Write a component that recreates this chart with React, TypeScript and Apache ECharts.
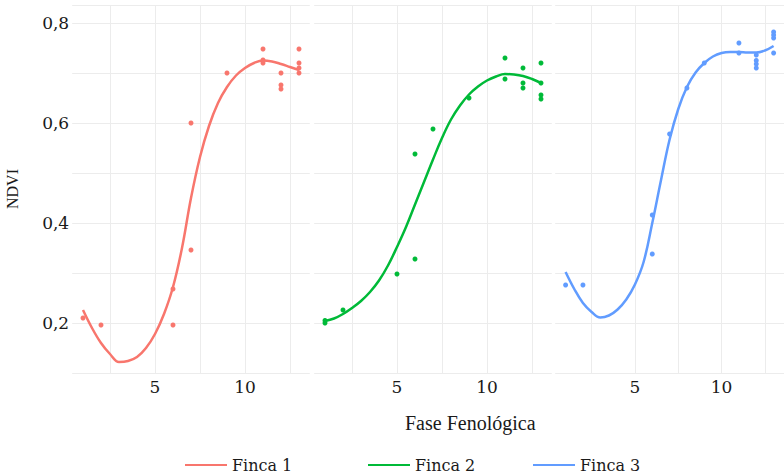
import React, { useEffect, useRef } from "react";
import * as echarts from "echarts";

const SERIES_NAMES = ["Finca 1", "Finca 2", "Finca 3"];
const COLORS = ["#F8766D", "#00BA38", "#619CFF"];

const X_CURVE = [1, 1.5, 2, 2.5, 3, 3.5, 4, 4.5, 5, 5.5, 6, 6.5, 7, 7.5, 8, 8.5, 9, 9.5, 10, 10.5, 11, 11.5, 12, 12.5, 13];

const FINCA1_CURVE = [0.226, 0.19, 0.16, 0.138, 0.122, 0.124, 0.132, 0.15, 0.178, 0.218, 0.272, 0.35, 0.45, 0.532, 0.594, 0.64, 0.672, 0.695, 0.71, 0.72, 0.725, 0.723, 0.718, 0.712, 0.706];
const FINCA2_CURVE = [0.204, 0.209, 0.218, 0.23, 0.244, 0.262, 0.285, 0.315, 0.352, 0.392, 0.437, 0.482, 0.527, 0.57, 0.607, 0.635, 0.657, 0.673, 0.685, 0.693, 0.698, 0.697, 0.694, 0.688, 0.68];
const FINCA3_CURVE = [0.302, 0.268, 0.24, 0.222, 0.211, 0.215, 0.227, 0.247, 0.277, 0.322, 0.4, 0.485, 0.567, 0.628, 0.672, 0.701, 0.72, 0.733, 0.74, 0.742, 0.742, 0.741, 0.741, 0.745, 0.754];

const FINCA1_POINTS = [[1, 0.21], [2, 0.196], [6, 0.268], [6, 0.196], [7, 0.346], [7, 0.6], [9, 0.7], [11, 0.748], [11, 0.726], [11, 0.72], [12, 0.7], [12, 0.676], [12, 0.668], [13, 0.748], [13, 0.72], [13, 0.71], [13, 0.7]];
const FINCA2_POINTS = [[1, 0.2], [1, 0.205], [2, 0.226], [5, 0.298], [6, 0.328], [6, 0.538], [7, 0.588], [9, 0.65], [11, 0.73], [11, 0.688], [12, 0.71], [12, 0.68], [12, 0.67], [13, 0.72], [13, 0.68], [13, 0.656], [13, 0.648]];
const FINCA3_POINTS = [[1, 0.276], [2, 0.276], [6, 0.338], [6, 0.416], [7, 0.578], [8, 0.67], [9, 0.72], [11, 0.76], [11, 0.74], [12, 0.736], [12, 0.725], [12, 0.718], [12, 0.71], [13, 0.782], [13, 0.776], [13, 0.77], [13, 0.74]];

const X_GRID_VALUES = [2.5, 5, 7.5, 10, 12.5];
const X_LABEL_VALUES = [5, 10];

const TITLE_FONT = "Liberation Serif";
const LABEL_FONT = "DejaVu Serif";
const GRID_COLOR = "#ececec";
const TEXT_COLOR = "#1a1a1a";

export default function App() {
  const ref = useRef<HTMLDivElement>(null);
  useEffect(() => {
    document.body.style.margin = "0";
    if (!ref.current) return;
    const chart = echarts.init(ref.current, undefined, { renderer: "svg" });
    const curves = [FINCA1_CURVE, FINCA2_CURVE, FINCA3_CURVE];
    const points = [FINCA1_POINTS, FINCA2_POINTS, FINCA3_POINTS];
    const lefts = [72.2, 314.2, 555.2];

    const grid = lefts.map((l) => ({ left: l, top: 5, width: 237.6, height: 368 }));
    const xAxis = lefts.map((_, i) => ({
      type: "value",
      gridIndex: i,
      min: 0.4,
      max: 13.6,
      axisLine: { show: false },
      axisTick: { show: false, customValues: X_GRID_VALUES },
      axisLabel: {
        customValues: X_LABEL_VALUES,
        margin: 5,
        fontFamily: LABEL_FONT,
        fontSize: 17,
        color: TEXT_COLOR,
      },
      splitLine: { show: true, customValues: X_GRID_VALUES, lineStyle: { color: GRID_COLOR, width: 1 } },
    }));
    const yAxis = lefts.map((_, i) => ({
      type: "value",
      gridIndex: i,
      min: 0.1,
      max: 0.836,
      interval: 0.1,
      name: i === 0 ? "NDVI" : "",
      nameLocation: "middle",
      nameGap: 52,
      nameTextStyle: { fontFamily: TITLE_FONT, fontSize: 16, color: TEXT_COLOR },
      axisLine: { show: false },
      axisTick: { show: false },
      axisLabel: {
        show: i === 0,
        margin: 3,
        fontFamily: LABEL_FONT,
        fontSize: 17,
        color: TEXT_COLOR,
        formatter: (v: number) => {
          const k = Math.round(v * 10);
          if (Math.abs(v * 10 - k) > 0.01) return "";
          return k % 2 === 0 ? (k / 10).toFixed(1).replace(".", ",") : "";
        },
      },
      splitLine: { show: true, lineStyle: { color: GRID_COLOR, width: 1 } },
    }));

    const series: any[] = [];
    SERIES_NAMES.forEach((name, i) => {
      series.push({
        name,
        type: "line",
        xAxisIndex: i,
        yAxisIndex: i,
        data: X_CURVE.map((x, j) => [x, curves[i][j]]),
        smooth: 0.4,
        showSymbol: false,
        symbol: "none",
        lineStyle: { color: COLORS[i], width: 2.5 },
        itemStyle: { color: COLORS[i] },
        z: 3,
      });
      series.push({
        name: name + " puntos",
        type: "scatter",
        xAxisIndex: i,
        yAxisIndex: i,
        data: points[i],
        symbolSize: 5,
        itemStyle: { color: COLORS[i], opacity: 1 },
        z: 4,
      });
    });

    const legendLefts = [180, 363, 528];
    const legend = SERIES_NAMES.map((name, i) => ({
      data: [name],
      left: legendLefts[i],
      top: 452,
      icon: "rect",
      itemWidth: 42,
      itemHeight: 2,
      itemGap: 5,
      textStyle: { fontFamily: LABEL_FONT, fontSize: 16, color: TEXT_COLOR },
      selectedMode: false,
    }));

    chart.setOption({
      animation: false,
      backgroundColor: "#ffffff",
      grid,
      xAxis,
      yAxis,
      legend,
      series,
      graphic: [
        {
          type: "text",
          left: 405,
          top: 413,
          style: { text: "Fase Fenológica", fontFamily: TITLE_FONT, fontSize: 20, fill: TEXT_COLOR },
        },
      ],
    });
    return () => chart.dispose();
  }, []);
  return <div ref={ref} style={{ width: 784, height: 473 }} />;
}
